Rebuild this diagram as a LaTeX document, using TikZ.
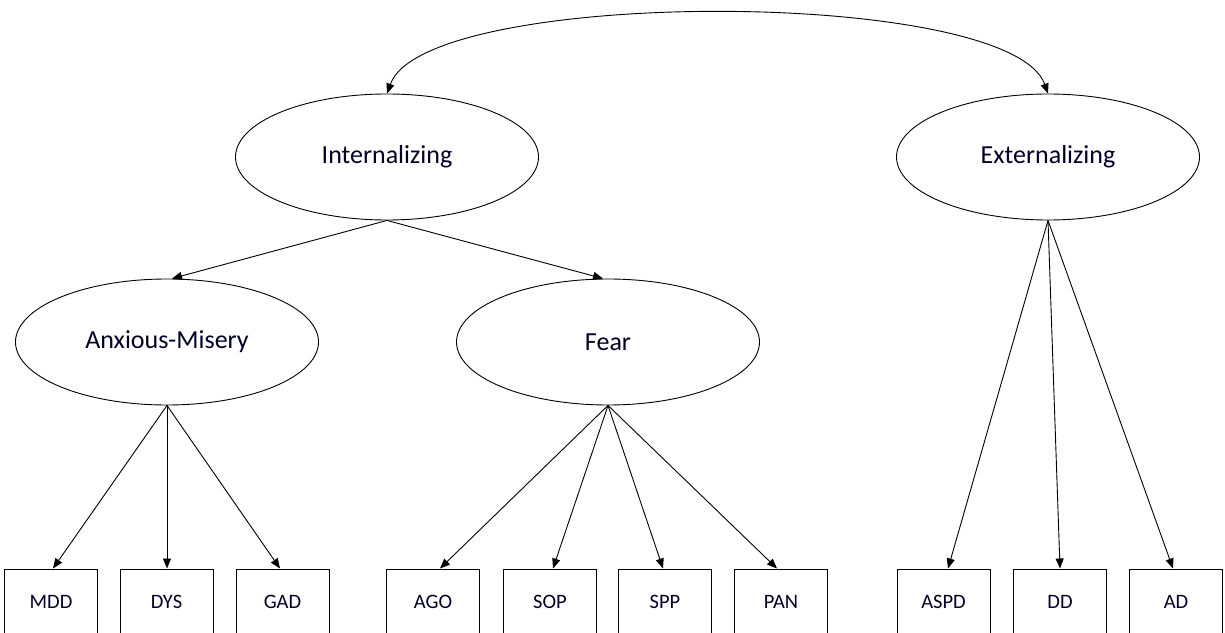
\documentclass[tikz,border=0pt]{standalone}
\usepackage{fontspec}
\setmainfont{Carlito}
\usetikzlibrary{shapes.geometric,arrows.meta}
\tikzset{
  factor/.style={draw, line width=0.9pt, ellipse, inner sep=0pt, minimum width=303pt, minimum height=126pt, font=\fontsize{26}{31}\selectfont, text=black!85!blue},
  disorder/.style={draw, line width=1pt, rectangle, inner sep=0pt, minimum width=93pt, minimum height=66pt, font=\fontsize{20.5}{24}\selectfont, text=black!85!blue},
  link/.style={line width=0.9pt, -{Triangle[length=10pt,width=8pt]}},
}
\begin{document}
\begin{tikzpicture}[x=1pt,y=1pt]
\useasboundingbox (0,0) rectangle (1225,632);
\fill[white] (0,0) rectangle (1225,632);
\clip (0,0) rectangle (1225,632);
% latent factors
\node[factor] (int) at (387,475) {Internalizing};
\node[factor] (ext) at (1048,475) {Externalizing};
\node[factor] (am) at (167,290) {Anxious-Misery};
\node[factor] (fear) at (608,290) {Fear};
% observed disorders
\node[disorder] (mdd) at (51,30) {MDD};
\node[disorder] (dys) at (166.5,30) {DYS};
\node[disorder] (gad) at (282.5,30) {GAD};
\node[disorder] (ago) at (433,30) {AGO};
\node[disorder] (sop) at (550,30) {SOP};
\node[disorder] (spp) at (665,30) {SPP};
\node[disorder] (pan) at (781,30) {PAN};
\node[disorder] (aspd) at (943.5,30) {ASPD};
\node[disorder] (dd) at (1060,30) {DD};
\node[disorder] (ad) at (1176,30) {AD};
% correlation
\draw[line width=0.9pt, {Triangle[length=10pt,width=8pt]}-{Triangle[length=10pt,width=8pt]}]
  (int.north) .. controls (425,645) and (1010,645) .. (ext.north);
% loadings
\draw[link] (int.south) -- ([xshift=5pt]am.north);
\draw[link] (int.south) -- ([xshift=-5pt]fear.north);
\draw[link] (am.south) -- ([xshift=2pt]mdd.north);
\draw[link] (am.south) -- ([xshift=0.5pt]dys.north);
\draw[link] (am.south) -- ([xshift=-2.5pt]gad.north);
\draw[link] (fear.south) -- ([xshift=7pt]ago.north);
\draw[link] (fear.south) -- ([xshift=3pt]sop.north);
\draw[link] (fear.south) -- ([xshift=-2pt]spp.north);
\draw[link] (fear.south) -- ([xshift=-4pt]pan.north);
\draw[link] (ext.south) -- ([xshift=4.5pt]aspd.north);
\draw[link] (ext.south) -- (dd.north);
\draw[link] (ext.south) -- ([xshift=-3pt]ad.north);
\end{tikzpicture}
\end{document}
